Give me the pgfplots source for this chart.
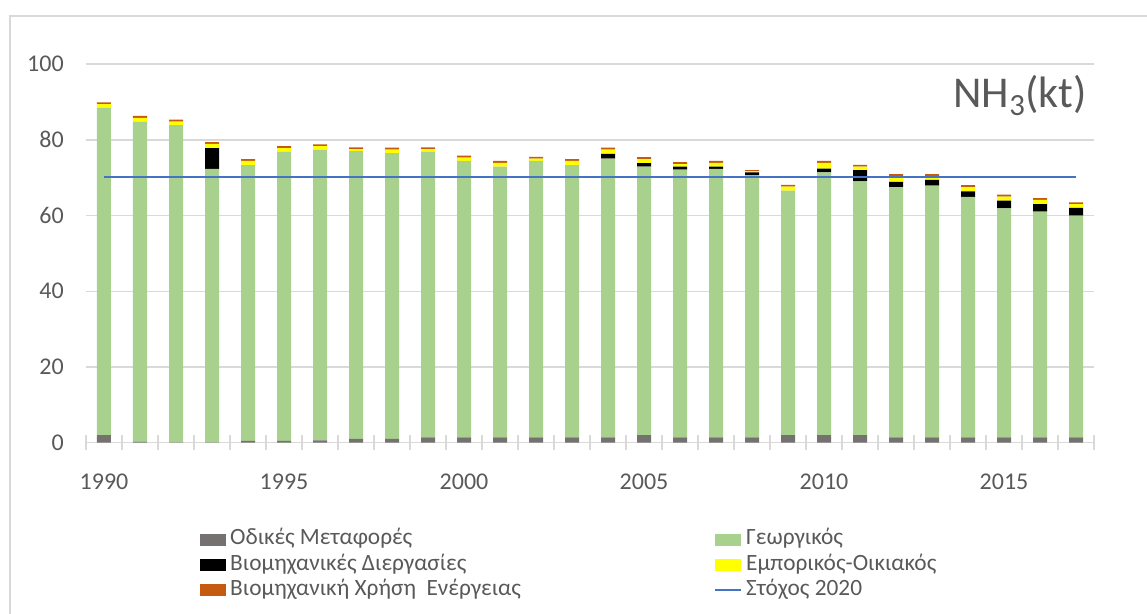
\documentclass[border=0pt]{standalone}
\usepackage{pgfplots}
\pgfplotsset{compat=1.18}
\usepackage{pgfplotstable}
\usepackage{fontspec}
\setmainfont{Carlito}

\definecolor{roadgray}{HTML}{767171}
\definecolor{agrigreen}{HTML}{A9D18E}
\definecolor{indblack}{HTML}{000000}
\definecolor{resyellow}{HTML}{FFFF00}
\definecolor{energyorange}{HTML}{C55A11}
\definecolor{targetblue}{HTML}{4472C4}
\definecolor{gridgray}{HTML}{D9D9D9}
\definecolor{textgray}{HTML}{595959}

% NH3 emissions by sector (kt)
\pgfplotstableread{
year gray green black yellow orange
1990 2.0 86.4 0.0 1.0 0.5
1991 0.2 84.6 0.0 1.0 0.5
1992 0.1 83.8 0.0 0.9 0.5
1993 0.1 72.2 5.5 1.1 0.5
1994 0.5 72.8 0.0 1.1 0.5
1995 0.5 76.4 0.0 0.9 0.5
1996 0.6 76.7 0.0 1.0 0.5
1997 1.0 76.0 0.0 0.5 0.5
1998 1.0 75.5 0.0 0.9 0.5
1999 1.4 75.5 0.0 0.6 0.5
2000 1.4 73.0 0.0 0.9 0.5
2001 1.4 71.5 0.0 1.0 0.5
2002 1.4 73.0 0.0 0.6 0.5
2003 1.4 71.9 0.0 1.1 0.5
2004 1.4 73.6 1.3 1.1 0.5
2005 2.0 70.9 0.9 1.1 0.5
2006 1.4 70.7 0.8 0.7 0.5
2007 1.4 70.9 0.6 1.0 0.5
2008 1.4 69.2 0.8 0.3 0.3
2009 2.0 64.6 0.0 1.0 0.5
2010 2.0 69.4 1.0 1.5 0.5
2011 2.0 67.0 3.0 0.9 0.5
2012 1.4 66.1 1.4 1.5 0.5
2013 1.4 66.5 1.5 1.0 0.5
2014 1.4 63.5 1.5 1.1 0.5
2015 1.4 60.5 2.0 1.1 0.5
2016 1.4 59.6 2.0 1.1 0.5
2017 1.4 58.6 2.0 1.0 0.5
}\emissions

% 2020 target
\pgfplotstableread{
year target
1990 70.1
2017 70.1
}\target

\pgfplotsset{
  frame/.style={
    at={(64.5pt,-332.025pt)}, anchor=south west,
    scale only axis, width=756pt, height=284pt,
    xmin=1989.5, xmax=2017.5, ymin=0, ymax=100,
  },
  barimg/.style={legend image code/.code={\fill[#1] (0pt,-4.5pt) rectangle (19.5pt,4.5pt);}},
  lineimg/.style={legend image code/.code={\draw[#1] (0pt,0pt) -- (19.5pt,0pt);}},
}

\begin{document}
\begin{tikzpicture}
\useasboundingbox (0,0) rectangle (860.25pt,-460.5pt);
\draw[gridgray, line width=1.1pt] (7.5pt,-12pt) rectangle (900pt,-500pt);

\begin{axis}[frame,
  ybar stacked, bar width=10.5pt,
  axis line style={draw=none},
  ymajorgrids, grid style={gridgray, line width=1.1pt},
  ytick={0,20,...,100},
  xtick={1990,1995,...,2015},
  minor xtick={1989.5,1990.5,...,2017.5},
  tick pos=left,
  tick align=center,
  major tick length=0pt,
  minor tick length=11pt,
  minor tick style={gridgray, line width=1.1pt},
  /pgf/number format/1000 sep={},
  /pgf/number format/assume math mode=true,
  ticklabel style={font=\fontsize{18}{21}\selectfont, text=textgray, inner sep=0pt},
  yticklabel style={xshift=-16.5pt},
  xticklabel style={yshift=-23pt},
  legend columns=2,
  legend cell align=left,
  legend style={draw=none, fill=none, inner sep=0pt,
    at={(0.113,-0.225)}, anchor=north west,
    font=\fontsize{17.5}{20}\selectfont, text=textgray,
    nodes={inner sep=0pt, text height=12.5pt, text depth=4.5pt},
    row sep=1.9pt,
    /tikz/every odd column/.append style={column sep=3pt},
  },
]
\addplot[fill=roadgray, draw=none, barimg] table[x=year, y=gray] {\emissions};
\addlegendentry{\makebox[363pt][l]{Οδικές Μεταφορές}}
\addplot[fill=agrigreen, draw=none, barimg] table[x=year, y=green] {\emissions};
\addlegendentry{Γεωργικός}
\addplot[fill=indblack, draw=none, barimg] table[x=year, y=black] {\emissions};
\addlegendentry{\makebox[363pt][l]{Βιομηχανικές Διεργασίες}}
\addplot[fill=resyellow, draw=none, barimg] table[x=year, y=yellow] {\emissions};
\addlegendentry{Εμπορικός-Οικιακός}
\addplot[fill=energyorange, draw=none, barimg] table[x=year, y=orange] {\emissions};
\addlegendentry{\makebox[363pt][l]{Βιομηχανική Χρήση\ \ Ενέργειας}}
\addlegendimage{targetblue, line width=1.5pt, lineimg}
\addlegendentry{Στόχος 2020}
\end{axis}

\begin{axis}[frame, axis lines=none, ticks=none]
\addplot[targetblue, line width=1.5pt] table[x=year, y=target] {\target};
\end{axis}

\node[anchor=base east, inner sep=0pt, text=textgray, font=\fontsize{33}{40}\selectfont]
  at (815.25pt,-80.25pt) {NH\textsubscript{3}(kt)};
\end{tikzpicture}
\end{document}
